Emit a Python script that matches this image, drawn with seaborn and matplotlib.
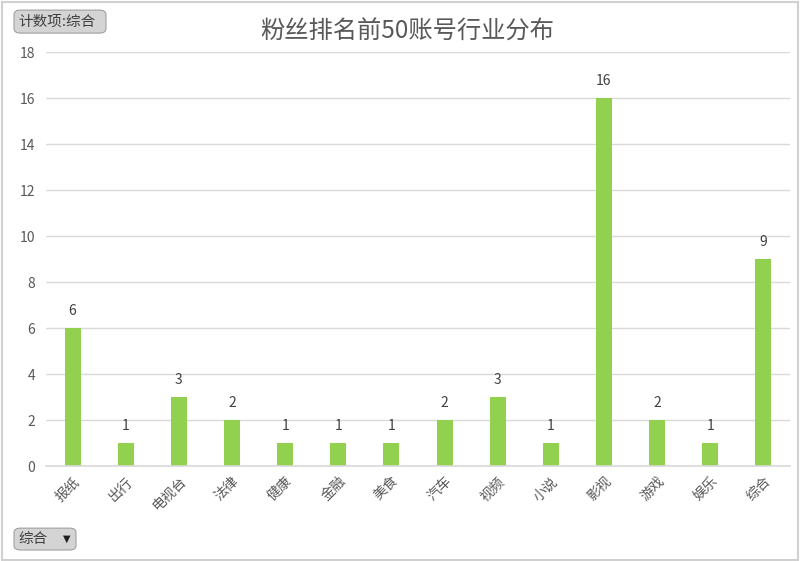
import matplotlib
matplotlib.use("Agg")
import matplotlib.pyplot as plt
import seaborn as sns
import pandas as pd
from matplotlib.patches import FancyBboxPatch, Rectangle

categories = ["报纸", "出行", "电视台", "法律", "健康", "金融", "美食", "汽车", "视频", "小说", "影视", "游戏", "娱乐", "综合"]
counts = [6, 1, 3, 2, 1, 1, 1, 2, 3, 1, 16, 2, 1, 9]
yticks = [0, 2, 4, 6, 8, 10, 12, 14, 16, 18]

sns.set_theme(style="white")
plt.rcParams['font.family'] = ['Noto Sans CJK SC', 'DejaVu Sans']

df = pd.DataFrame({"category": categories, "count": counts})

fig = plt.figure(figsize=(8, 5.61), dpi=100)
ax = fig.add_axes([0.0575, 0.1693, 0.93, 0.738])
sns.barplot(data=df, x="category", y="count", color="#92D050", saturation=1, width=0.3,
            linewidth=0, ax=ax)

ax.set_ylim(0, 18)
ax.set_xlim(-0.5, len(categories) - 0.5)
ax.set_yticks(yticks)
ax.set_yticklabels([str(v) for v in yticks], color="#595959", fontsize=10)
ax.yaxis.grid(True, color="#D9D9D9", linewidth=1)
ax.set_axisbelow(True)
for s in ["top", "right", "left"]:
    ax.spines[s].set_visible(False)
ax.spines["bottom"].set_color("#D9D9D9")
ax.spines["bottom"].set_linewidth(1.2)
ax.tick_params(axis="y", length=0, pad=8)
ax.tick_params(axis="x", length=0, pad=6)
ax.set_xticks(range(len(categories)))
ax.set_xticklabels(categories, rotation=45, ha="right", rotation_mode="anchor", color="#595959", fontsize=10)
ax.set_xlabel("")
ax.set_ylabel("")

for c in ax.containers:
    ax.bar_label(c, labels=[str(v) for v in counts], padding=7, color="#404040", fontsize=10)

fig.text(0.509, 0.944, "粉丝排名前50账号行业分布", ha="center", va="center", fontsize=17.5, color="#595959")

# pivot buttons
for (x0, y0, w, h, txt) in [(0.0175, 0.941, 0.115, 0.041, "计数项:综合"), (0.0175, 0.0196, 0.0775, 0.039, "综合")]:
    box = FancyBboxPatch((x0, y0), w, h, boxstyle="round,pad=0,rounding_size=0.008",
                         transform=fig.transFigure, facecolor="#D4D4D4", edgecolor="#A0A0A0", linewidth=0.8)
    fig.patches.append(box)
    fig.text(x0 + 0.005, y0 + h / 2, txt, ha="left", va="center", fontsize=10.5, color="#404040")
fig.text(0.084, 0.039, "▼", ha="center", va="center", fontsize=7, color="#202020", family=["DejaVu Sans"])

fig.patches.append(Rectangle((0.002, 0.002), 0.995, 0.995, transform=fig.transFigure,
                             facecolor="none", edgecolor="#D0D0D0", linewidth=1.5))

fig.savefig("out.png", dpi=100)
